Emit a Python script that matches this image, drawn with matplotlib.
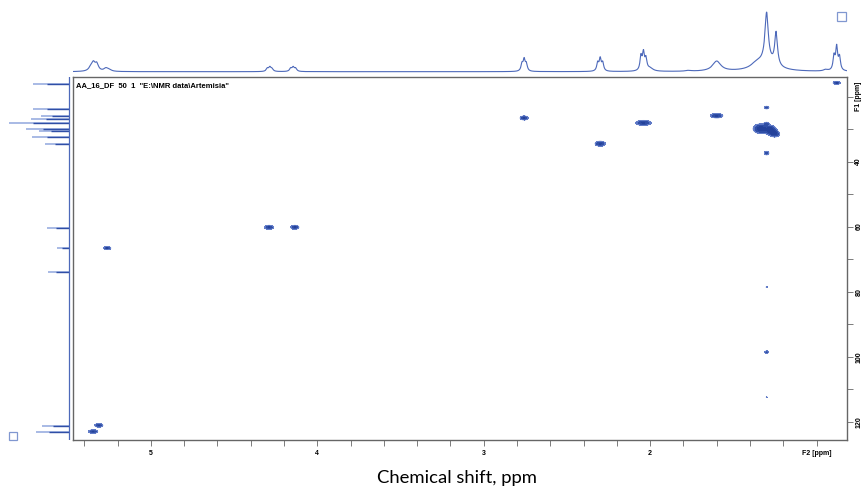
import numpy as np
import matplotlib
matplotlib.use("Agg")
import matplotlib.pyplot as plt
from matplotlib.patches import Rectangle
from matplotlib.ticker import MultipleLocator, FixedLocator, FuncFormatter

# HSQC cross peaks: 1H shift, 13C shift, amplitude, 1H sigma, 13C sigma (ppm)
hsqc_h = [0.879, 1.300, 1.335, 1.275, 1.250, 1.300, 1.600, 2.040, 2.300, 2.757,
          4.290, 4.135, 5.262, 5.313, 5.347, 1.300, 1.300, 1.300, 1.300]
hsqc_c = [15.8, 23.4, 29.9, 30.3, 31.5, 28.4, 25.9, 28.1, 34.5, 26.6,
          60.2, 60.2, 66.6, 121.1, 123.0, 37.4, 78.6, 98.6, 112.4]
hsqc_amp = [1.0, 0.8, 1.2, 1.2, 1.0, 0.7, 1.0, 1.0, 1.0, 1.0,
            1.0, 1.0, 1.0, 1.0, 1.0, 0.8, 0.45, 0.7, 0.4]
hsqc_sh = [0.014, 0.010, 0.028, 0.020, 0.018, 0.010, 0.024, 0.030, 0.020, 0.016,
           0.018, 0.016, 0.014, 0.016, 0.018, 0.010, 0.004, 0.008, 0.004]
hsqc_sc = [0.30, 0.30, 0.90, 0.80, 0.60, 0.35, 0.45, 0.50, 0.50, 0.40,
           0.40, 0.40, 0.30, 0.35, 0.35, 0.40, 0.15, 0.30, 0.15]

# 1H projection (F2): shift, height, half width
h1_ppm = [5.360, 5.345, 5.325, 5.270, 5.250, 4.300, 4.285, 4.272, 4.160, 4.145,
          4.130, 2.770, 2.757, 2.744, 2.315, 2.300, 2.285, 2.055, 2.040, 2.025,
          2.000, 1.770, 1.600, 1.360, 1.300, 1.300, 1.243, 0.945, 0.895, 0.879,
          0.862]
h1_int = [4, 7, 7, 3, 1.5, 3, 4, 2.5, 3, 4,
          3, 7, 11, 7, 8, 12, 8, 14, 17, 11,
          3, 0.8, 10, 5, 49, 8, 33, 1.5, 14, 23,
          13]
h1_hw = [0.015, 0.012, 0.012, 0.015, 0.015, 0.008, 0.008, 0.008, 0.008, 0.008,
         0.008, 0.007, 0.007, 0.007, 0.007, 0.007, 0.007, 0.007, 0.007, 0.007,
         0.020, 0.020, 0.030, 0.040, 0.012, 0.070, 0.010, 0.015, 0.007, 0.007,
         0.007]

# 13C projection (F1): shift, height
c13_ppm = [16.2, 23.9, 25.9, 26.9, 28.2, 30.0, 30.6, 32.3, 34.5,
           60.3, 66.6, 74.0, 121.2, 123.1]
c13_int = [36, 36, 28, 38, 60, 43, 30, 37, 24, 22, 12, 21, 27, 33]

F2_LIM = (5.468, 0.817)
F1_LIM = (125.6, 14.0)

BLUE = "#2f4ea6"
LINE = "#4d69ba"
LIGHT = "#9aaee0"
W, H = 863, 492


def px_axes(fig, x0, y0, x1, y1):
    return fig.add_axes([x0 / W, 1 - y1 / H, (x1 - x0) / W, (y1 - y0) / H])


def lorentz(x, pos, height, hw):
    out = np.zeros_like(x)
    for p, h, w in zip(pos, height, hw):
        out += h * w ** 2 / ((x - p) ** 2 + w ** 2)
    return out


fig = plt.figure(figsize=(W / 100, H / 100), dpi=100)

ax = px_axes(fig, 73, 77, 847, 440)
hx = np.linspace(F2_LIM[1], F2_LIM[0], 1800)
cy = np.linspace(F1_LIM[1], F1_LIM[0], 1000)
HH, CC = np.meshgrid(hx, cy)
z = np.zeros_like(HH)
for h, c, a, sh, sc in zip(hsqc_h, hsqc_c, hsqc_amp, hsqc_sh, hsqc_sc):
    z += a * np.exp(-0.5 * ((HH - h) / sh) ** 2 - 0.5 * ((CC - c) / sc) ** 2)
ax.contourf(HH, CC, z, levels=[0.3, 0.6, 0.95, 10],
            colors=["#5873c4", BLUE, "#24419a"])
ax.contour(HH, CC, z, levels=[0.3], colors=["#6d86cc"], linewidths=0.5)

ax.set_xlim(*F2_LIM)
ax.set_ylim(*F1_LIM)
ax.yaxis.tick_right()
for s in ax.spines.values():
    s.set_color("#666666")
    s.set_linewidth(1.0)

ax.xaxis.set_major_locator(FixedLocator([1, 2, 3, 4, 5]))
ax.xaxis.set_minor_locator(MultipleLocator(0.2))
ax.xaxis.set_major_formatter(FuncFormatter(
    lambda v, p: "F2 [ppm]" if abs(v - 1) < 1e-6 else "%d" % round(v)))
ax.yaxis.set_major_locator(FixedLocator([20, 40, 60, 80, 100, 120]))
ax.yaxis.set_minor_locator(MultipleLocator(10))
ax.yaxis.set_major_formatter(FuncFormatter(
    lambda v, p: "F1 [ppm]" if abs(v - 20) < 1e-6 else "%d" % round(v)))
ax.tick_params(which="both", length=4, width=0.6, color="#666666",
               labelsize=5, pad=3)
ax.tick_params(axis="y", pad=2)
for lab in ax.get_xticklabels() + ax.get_yticklabels():
    lab.set_fontweight("bold")
    lab.set_family("Liberation Sans")
for lab in ax.get_yticklabels():
    lab.set_rotation(90)
    lab.set_va("center")

ax.text(0.004, 0.985, 'AA_16_DF  50  1  "E:\\NMR data\\Artemisia"',
        transform=ax.transAxes, ha="left", va="top", fontsize=5.5,
        fontweight="bold", family="Liberation Sans")

# 1H projection along the top
top = px_axes(fig, 73, 0, 847, 77)
x1 = np.linspace(F2_LIM[1], F2_LIM[0], 4000)
top.plot(x1, lorentz(x1, h1_ppm, h1_int, h1_hw), color=LINE, lw=0.8)
top.set_xlim(*F2_LIM)
top.set_ylim(-5.3, 71.7)
top.axis("off")

# 13C projection on the left, drawn as sticks off a vertical baseline
left = px_axes(fig, 0, 77, 73, 440)
c13_int = np.array(c13_int, dtype=float)
left.hlines(c13_ppm, 0, c13_int, color=LIGHT, lw=1.2)
left.hlines(c13_ppm, 0, 0.6 * c13_int, color=BLUE, lw=1.0)
left.axvline(0, color=LINE, lw=0.9)
left.set_xlim(69, -4)
left.set_ylim(*F1_LIM)
left.axis("off")

fig.add_artist(Rectangle((837 / W, 1 - 21 / H), 9 / W, 9 / H,
                         transform=fig.transFigure, fill=False,
                         edgecolor="#8097d0", lw=0.9))
fig.add_artist(Rectangle((9 / W, 1 - 440 / H), 8 / W, 8 / H,
                         transform=fig.transFigure, fill=False,
                         edgecolor="#8097d0", lw=0.9))

fig.text(457 / W, 1 - 478 / H, "Chemical shift, ppm", ha="center", va="center",
         fontsize=13.3, family="Lato")

fig.savefig("out.png", dpi=100)
